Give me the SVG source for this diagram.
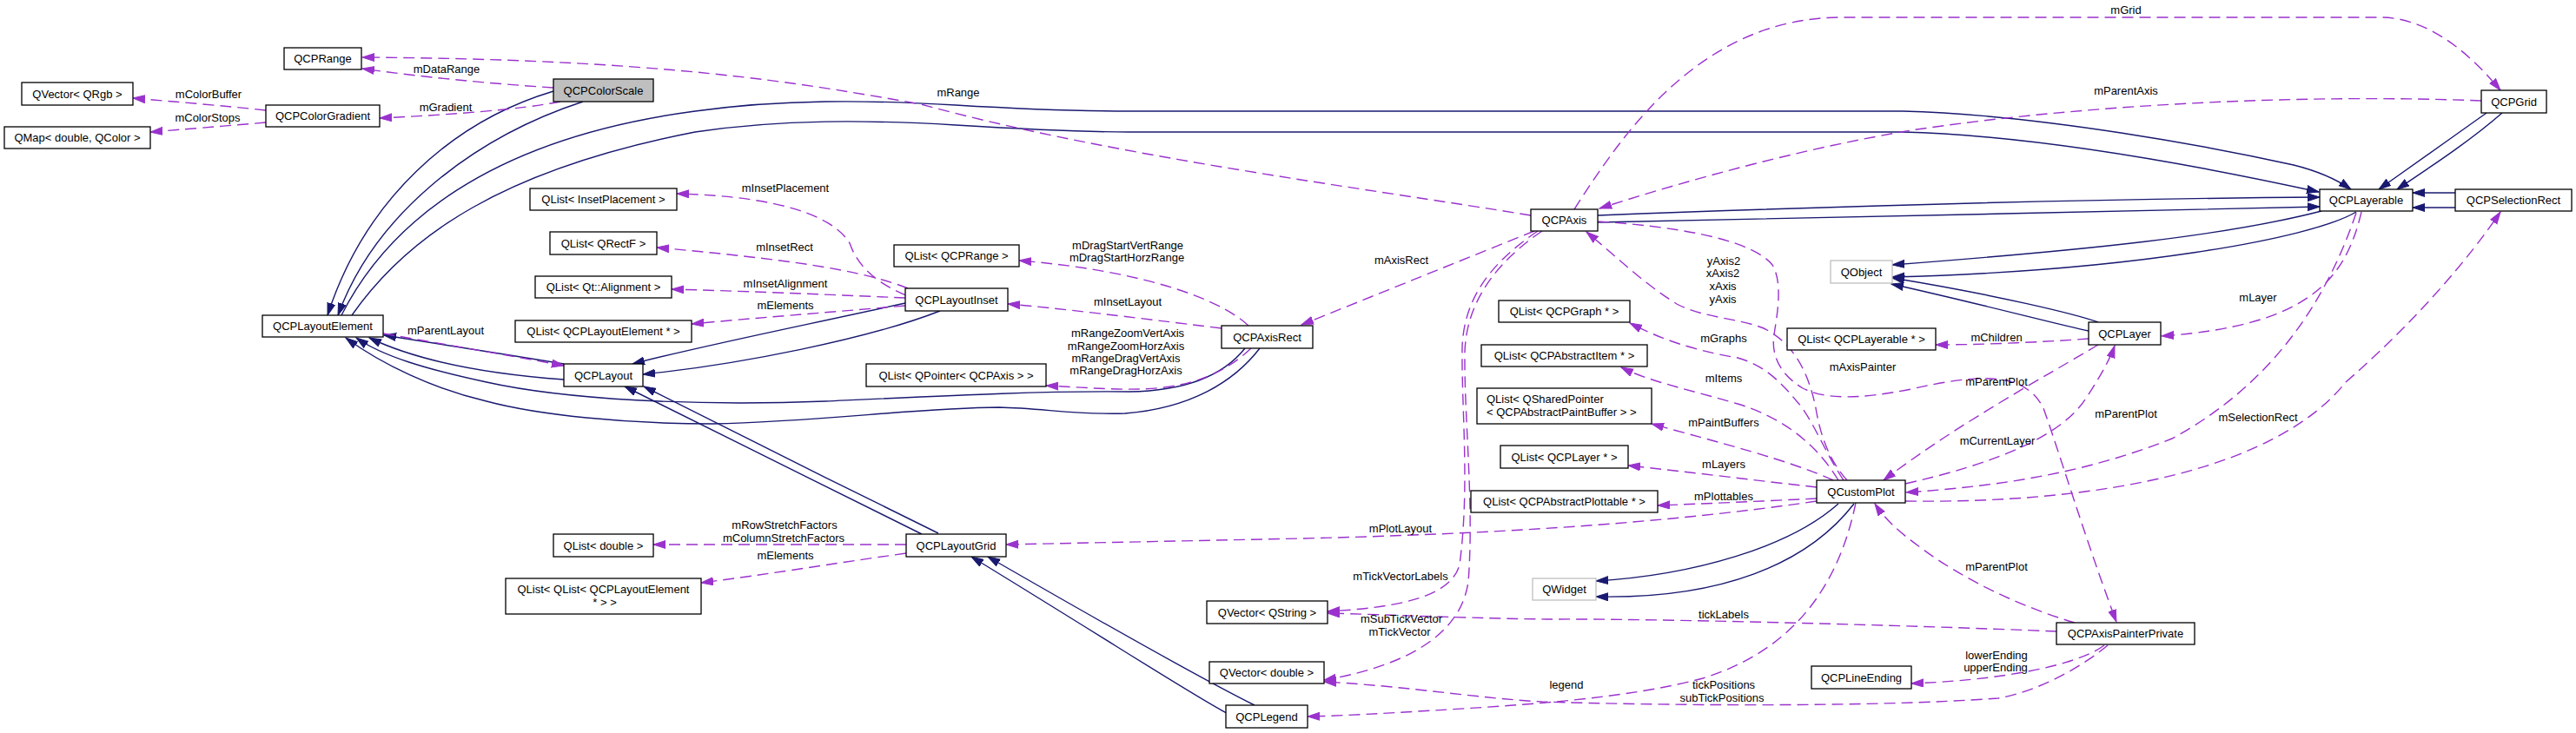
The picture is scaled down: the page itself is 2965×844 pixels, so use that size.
<svg xmlns="http://www.w3.org/2000/svg" width="2965" height="844" viewBox="0 0 2965 844">
<style>
.box{fill:#fff;stroke:#000;stroke-width:1.3}
.gbox{fill:#fff;stroke:#bfbfbf;stroke-width:1.3}
.sel{fill:#bfbfbf;stroke:#000;stroke-width:1.3}
text{font-family:"Liberation Sans",Arial,Helvetica,sans-serif;font-size:13px;fill:#000}
.c{text-anchor:middle}
.inh{fill:none;stroke:#191970;stroke-width:1.4;marker-end:url(#an)}
.use{fill:none;stroke:#9a32cd;stroke-width:1.4;stroke-dasharray:13,7;marker-end:url(#ap)}
</style>
<defs>
<marker id="an" markerUnits="userSpaceOnUse" markerWidth="16" markerHeight="12" refX="14" refY="5" orient="auto"><path d="M0,0.5 L14,5 L0,9.5 z" fill="#191970" stroke="#191970" stroke-width="1"/></marker>
<marker id="ap" markerUnits="userSpaceOnUse" markerWidth="16" markerHeight="12" refX="14" refY="5" orient="auto"><path d="M0,0.5 L14,5 L0,9.5 z" fill="#9a32cd" stroke="#9a32cd" stroke-width="1"/></marker>
</defs>
<rect width="2965" height="844" fill="#fff"/>
<g id="connectors">
<!-- inheritance -->
<path class="inh" d="M637,105 C520,140 420,230 377,363"/>
<path class="inh" d="M671,117 C540,160 430,250 389,363"/>
<path class="inh" d="M393,363 C445,260 560,160 800,128 C900,114 1000,115 1100,121 C1200,127 1250,128 1300,128 L2190,128 C2350,132 2550,170 2640,190 Q2680,200 2706,218"/>
<path class="inh" d="M405,363 C470,270 580,195 800,152 C900,137 1000,138 1100,144 C1200,150 1250,152 1300,152 L2190,152 C2350,156 2550,195 2669,221"/>
<path class="inh" d="M1839,248 C2100,238 2400,229 2670,227"/>
<path class="inh" d="M1839,256 C2100,252 2400,243 2670,238"/>
<path class="inh" d="M2672,243 C2560,272 2400,288 2178,305"/>
<path class="inh" d="M2712,244 C2660,275 2450,312 2178,319"/>
<path class="inh" d="M2415,371 C2390,362 2300,340 2178,320"/>
<path class="inh" d="M2404,381 C2370,374 2280,350 2177,327"/>
<path class="inh" d="M2862,130 C2820,160 2770,195 2738,218"/>
<path class="inh" d="M2880,130 C2840,165 2790,197 2759,218"/>
<path class="inh" d="M2826,222 L2777,222"/>
<path class="inh" d="M2826,239 L2777,239"/>
<path class="inh" d="M2116,580 C2060,630 1950,662 1837,669"/>
<path class="inh" d="M2134,580 C2080,650 1980,690 1837,687"/>
<path class="inh" d="M1433,401 C1410,430 1370,450 1300,451 C1200,450 1100,455 950,462 C800,468 650,460 560,440 C490,425 440,410 410,389"/>
<path class="inh" d="M1450,401 C1420,440 1370,470 1295,476 C1240,478 1200,470 1150,469 C1050,470 950,485 820,488 C720,488 620,478 560,462 C500,448 440,420 398,389"/>
<path class="inh" d="M649,419 C580,408 500,395 442,386"/>
<path class="inh" d="M649,437 C580,432 490,420 425,389"/>
<path class="inh" d="M1042,349 C900,380 800,400 728,419"/>
<path class="inh" d="M1082,358 C1000,390 850,420 740,431"/>
<path class="inh" d="M1061,615 C950,560 800,485 719,445"/>
<path class="inh" d="M1080,614 C970,560 820,485 741,445"/>
<path class="inh" d="M1444,812 C1400,790 1300,735 1137,641"/>
<path class="inh" d="M1412,821 C1380,805 1280,740 1118,641"/>
<!-- usage -->
<path class="use" d="M1762,248 C1560,215 1280,180 1060,120 C920,95 760,68 417,66"/>
<path class="use" d="M637,101 C560,96 480,88 417,79"/>
<path class="use" d="M645,117 C600,126 520,132 437,136"/>
<path class="use" d="M306,127 C260,122 200,117 153,113"/>
<path class="use" d="M306,141 C260,145 210,149 173,152"/>
<path class="use" d="M441,384 C520,398 590,410 649,421"/>
<path class="use" d="M1043,340 C1000,322 985,300 978,280 C960,250 900,226 779,223"/>
<path class="use" d="M1045,332 C990,310 900,298 756,285"/>
<path class="use" d="M1042,343 C950,339 850,335 773,333"/>
<path class="use" d="M1042,352 C950,360 870,366 796,373"/>
<path class="use" d="M1437,375 C1400,340 1300,310 1173,300"/>
<path class="use" d="M1406,378 C1300,365 1220,355 1160,350"/>
<path class="use" d="M1440,401 C1420,420 1390,440 1340,446 C1300,451 1250,446 1204,444"/>
<path class="use" d="M1766,266 L1498,374"/>
<path class="use" d="M1812,241 C1870,150 1960,20 2120,20 L2740,20 C2800,20 2850,70 2878,104"/>
<path class="use" d="M2856,116 C2650,108 2400,120 2200,150 C2080,170 1950,205 1841,240"/>
<path class="use" d="M2718,244 C2700,320 2660,375 2488,387"/>
<path class="use" d="M2404,390 C2350,394 2280,397 2228,397"/>
<path class="use" d="M2712,245 C2680,340 2620,440 2500,505 C2400,545 2300,560 2194,567"/>
<path class="use" d="M2193,557 C2290,535 2370,505 2400,460 C2420,430 2430,410 2434,398"/>
<path class="use" d="M2415,397 C2360,430 2250,490 2168,553"/>
<path class="use" d="M2193,577 C2420,580 2620,540 2700,440 C2780,370 2840,300 2878,244"/>
<path class="use" d="M1839,255 C1950,262 2020,280 2040,305 C2052,325 2046,360 2042,385 C2038,410 2050,432 2075,447 C2100,460 2140,460 2200,448 C2270,432 2330,425 2352,470 C2370,520 2400,620 2436,716"/>
<path class="use" d="M2126,553 C2105,530 2095,500 2090,470 C2082,430 2065,395 2030,378 C2000,366 1960,366 1930,350 C1890,325 1860,295 1826,267"/>
<path class="use" d="M2122,553 C2100,520 2085,480 2068,462 C2050,440 2030,420 2000,412 C1960,405 1920,395 1876,372"/>
<path class="use" d="M2116,553 C2090,510 2050,480 2000,465 C1950,450 1900,440 1866,423"/>
<path class="use" d="M2110,553 C2060,530 1980,510 1901,488"/>
<path class="use" d="M2091,561 C2020,553 1940,543 1874,536"/>
<path class="use" d="M2091,574 C2030,577 1960,580 1908,582"/>
<path class="use" d="M2091,577 C1900,605 1700,615 1500,620 L1158,627"/>
<path class="use" d="M1770,266 C1720,300 1685,340 1683,400 C1682,470 1692,560 1680,650 C1670,690 1600,700 1528,704"/>
<path class="use" d="M1775,266 C1725,300 1688,345 1686,405 C1685,480 1697,580 1690,670 C1680,740 1600,770 1524,783"/>
<path class="use" d="M2136,579 C2115,680 2060,750 1960,781 C1870,805 1750,812 1650,818 C1600,821 1550,824 1505,825"/>
<path class="use" d="M2426,743 C2400,765 2350,795 2300,804 C2150,815 1900,812 1775,808 C1700,804 1620,790 1524,785"/>
<path class="use" d="M2422,743 C2400,760 2330,782 2200,787"/>
<path class="use" d="M2367,727 C2200,720 1900,712 1780,713 C1700,712 1600,708 1528,706"/>
<path class="use" d="M2388,717 C2330,700 2260,668 2210,630 C2185,612 2170,598 2158,580"/>
<path class="use" d="M1043,627 L752,627"/>
<path class="use" d="M1043,637 C950,650 880,662 807,671"/>
<!-- labels -->
<g class="c">
<text x="514" y="84">mDataRange</text>
<text x="240" y="113">mColorBuffer</text>
<text x="239" y="140">mColorStops</text>
<text x="513" y="128">mGradient</text>
<text x="513" y="385">mParentLayout</text>
<text x="1103" y="111">mRange</text>
<text x="904" y="221">mInsetPlacement</text>
<text x="903" y="289">mInsetRect</text>
<text x="904" y="331">mInsetAlignment</text>
<text x="904" y="356">mElements</text>
<text x="1298" y="287">mDragStartVertRange</text>
<text x="1297" y="301">mDragStartHorzRange</text>
<text x="1613" y="304">mAxisRect</text>
<text x="1298" y="352">mInsetLayout</text>
<text x="1298" y="388">mRangeZoomVertAxis</text>
<text x="1296" y="403">mRangeZoomHorzAxis</text>
<text x="1296" y="417">mRangeDragVertAxis</text>
<text x="1296" y="431">mRangeDragHorzAxis</text>
<text x="1984" y="305">yAxis2</text>
<text x="1983" y="319">xAxis2</text>
<text x="1983" y="334">xAxis</text>
<text x="1983" y="349">yAxis</text>
<text x="1984" y="394">mGraphs</text>
<text x="2298" y="393">mChildren</text>
<text x="2144" y="427">mAxisPainter</text>
<text x="2447" y="16">mGrid</text>
<text x="2447" y="109">mParentAxis</text>
<text x="2599" y="347">mLayer</text>
<text x="1984" y="440">mItems</text>
<text x="2298" y="444">mParentPlot</text>
<text x="1984" y="491">mPaintBuffers</text>
<text x="2299" y="512">mCurrentLayer</text>
<text x="1984" y="539">mLayers</text>
<text x="1984" y="576">mPlottables</text>
<text x="2298" y="657">mParentPlot</text>
<text x="1984" y="712">tickLabels</text>
<text x="2298" y="759">lowerEnding</text>
<text x="2297" y="773">upperEnding</text>
<text x="1803" y="793">legend</text>
<text x="1984" y="793">tickPositions</text>
<text x="1982" y="808">subTickPositions</text>
<text x="1612" y="613">mPlotLayout</text>
<text x="1612" y="668">mTickVectorLabels</text>
<text x="1613" y="717">mSubTickVector</text>
<text x="1611" y="732">mTickVector</text>
<text x="2447" y="481">mParentPlot</text>
<text x="2599" y="485">mSelectionRect</text>
<text x="903" y="609">mRowStretchFactors</text>
<text x="902" y="624">mColumnStretchFactors</text>
<text x="904" y="644">mElements</text>
</g>
</g>
<g id="QCPColorScale"><rect class="sel" x="637" y="91" width="115" height="26"/><text class="c" x="694.5" y="108.5">QCPColorScale</text></g>
<g id="QCPRange"><rect class="box" x="327" y="55" width="89" height="25"/><text class="c" x="371.5" y="72">QCPRange</text></g>
<g id="QCPColorGradient"><rect class="box" x="306" y="121" width="131" height="25"/><text class="c" x="371.5" y="138">QCPColorGradient</text></g>
<g id="QVector_QRgb"><rect class="box" x="25" y="95" width="128" height="26"/><text class="c" x="89" y="112.5">QVector&lt; QRgb &gt;</text></g>
<g id="QMap_double_QColor"><rect class="box" x="5" y="146" width="168" height="25"/><text class="c" x="89" y="163">QMap&lt; double, QColor &gt;</text></g>
<g id="QCPLayoutElement"><rect class="box" x="302" y="363" width="139" height="25"/><text class="c" x="371.5" y="380">QCPLayoutElement</text></g>
<g id="QList_InsetPlacement"><rect class="box" x="610" y="217" width="169" height="25"/><text class="c" x="694.5" y="234">QList&lt; InsetPlacement &gt;</text></g>
<g id="QList_QRectF"><rect class="box" x="633" y="267" width="123" height="26"/><text class="c" x="694.5" y="284.5">QList&lt; QRectF &gt;</text></g>
<g id="QList_Alignment"><rect class="box" x="616" y="318" width="157" height="25"/><text class="c" x="694.5" y="335">QList&lt; Qt::Alignment &gt;</text></g>
<g id="QList_QCPLayoutElement"><rect class="box" x="593" y="369" width="203" height="25"/><text class="c" x="694.5" y="386">QList&lt; QCPLayoutElement * &gt;</text></g>
<g id="QCPLayoutInset"><rect class="box" x="1042" y="332" width="118" height="26"/><text class="c" x="1101" y="349.5">QCPLayoutInset</text></g>
<g id="QList_QCPRange"><rect class="box" x="1029" y="282" width="144" height="25"/><text class="c" x="1101" y="299">QList&lt; QCPRange &gt;</text></g>
<g id="QCPLayout"><rect class="box" x="649" y="419" width="91" height="26"/><text class="c" x="694.5" y="436.5">QCPLayout</text></g>
<g id="QList_QPointer_QCPAxis"><rect class="box" x="997" y="419" width="207" height="26"/><text class="c" x="1100.5" y="436.5">QList&lt; QPointer&lt; QCPAxis &gt; &gt;</text></g>
<g id="QCPAxisRect"><rect class="box" x="1406" y="375" width="105" height="26"/><text class="c" x="1458.5" y="392.5">QCPAxisRect</text></g>
<g id="QCPAxis"><rect class="box" x="1762" y="241" width="77" height="25"/><text class="c" x="1800.5" y="258">QCPAxis</text></g>
<g id="QList_QCPGraph"><rect class="box" x="1725" y="346" width="151" height="25"/><text class="c" x="1800.5" y="363">QList&lt; QCPGraph * &gt;</text></g>
<g id="QList_QCPAbstractItem"><rect class="box" x="1705" y="397" width="191" height="25"/><text class="c" x="1800.5" y="414">QList&lt; QCPAbstractItem * &gt;</text></g>
<g id="QList_QSharedPointer"><rect class="box" x="1700" y="447" width="201" height="41"/><text x="1711" y="463.5">QList&lt; QSharedPointer</text><text x="1711" y="479">&lt; QCPAbstractPaintBuffer &gt; &gt;</text></g>
<g id="QList_QCPLayer"><rect class="box" x="1727" y="513" width="147" height="26"/><text class="c" x="1800.5" y="530.5">QList&lt; QCPLayer * &gt;</text></g>
<g id="QList_QCPAbstractPlottable"><rect class="box" x="1693" y="565" width="215" height="25"/><text class="c" x="1800.5" y="582">QList&lt; QCPAbstractPlottable * &gt;</text></g>
<g id="QWidget"><rect class="gbox" x="1764" y="666" width="73" height="25"/><text class="c" x="1800.5" y="683">QWidget</text></g>
<g id="QVector_QString"><rect class="box" x="1389" y="692" width="139" height="26"/><text class="c" x="1458.5" y="709.5">QVector&lt; QString &gt;</text></g>
<g id="QVector_double"><rect class="box" x="1392" y="762" width="132" height="25"/><text class="c" x="1458" y="779">QVector&lt; double &gt;</text></g>
<g id="QCPLegend"><rect class="box" x="1411" y="812" width="94" height="26"/><text class="c" x="1458" y="829.5">QCPLegend</text></g>
<g id="QObject"><rect class="gbox" x="2107" y="300" width="71" height="26"/><text class="c" x="2142.5" y="317.5">QObject</text></g>
<g id="QList_QCPLayerable"><rect class="box" x="2057" y="378" width="171" height="25"/><text class="c" x="2142.5" y="395">QList&lt; QCPLayerable * &gt;</text></g>
<g id="QCPGrid"><rect class="box" x="2856" y="104" width="75" height="26"/><text class="c" x="2893.5" y="121.5">QCPGrid</text></g>
<g id="QCPLayerable"><rect class="box" x="2670" y="218" width="107" height="25"/><text class="c" x="2723.5" y="235">QCPLayerable</text></g>
<g id="QCPSelectionRect"><rect class="box" x="2826" y="218" width="134" height="25"/><text class="c" x="2893" y="235">QCPSelectionRect</text></g>
<g id="QCPLayer"><rect class="box" x="2404" y="371" width="83" height="26"/><text class="c" x="2445.5" y="388.5">QCPLayer</text></g>
<g id="QCustomPlot"><rect class="box" x="2091" y="553" width="102" height="26"/><text class="c" x="2142" y="570.5">QCustomPlot</text></g>
<g id="QCPLineEnding"><rect class="box" x="2085" y="767" width="115" height="26"/><text class="c" x="2142.5" y="784.5">QCPLineEnding</text></g>
<g id="QCPAxisPainterPrivate"><rect class="box" x="2367" y="717" width="159" height="25"/><text class="c" x="2446.5" y="734">QCPAxisPainterPrivate</text></g>
<g id="QList_double"><rect class="box" x="637" y="615" width="115" height="26"/><text class="c" x="694.5" y="632.5">QList&lt; double &gt;</text></g>
<g id="QList_QList_QCPLayoutElement"><rect class="box" x="582" y="666" width="225" height="41"/><text class="c" x="694.5" y="683">QList&lt; QList&lt; QCPLayoutElement</text><text class="c" x="696" y="698">* &gt; &gt;</text></g>
<g id="QCPLayoutGrid"><rect class="box" x="1043" y="615" width="115" height="26"/><text class="c" x="1100.5" y="632.5">QCPLayoutGrid</text></g>
</svg>
